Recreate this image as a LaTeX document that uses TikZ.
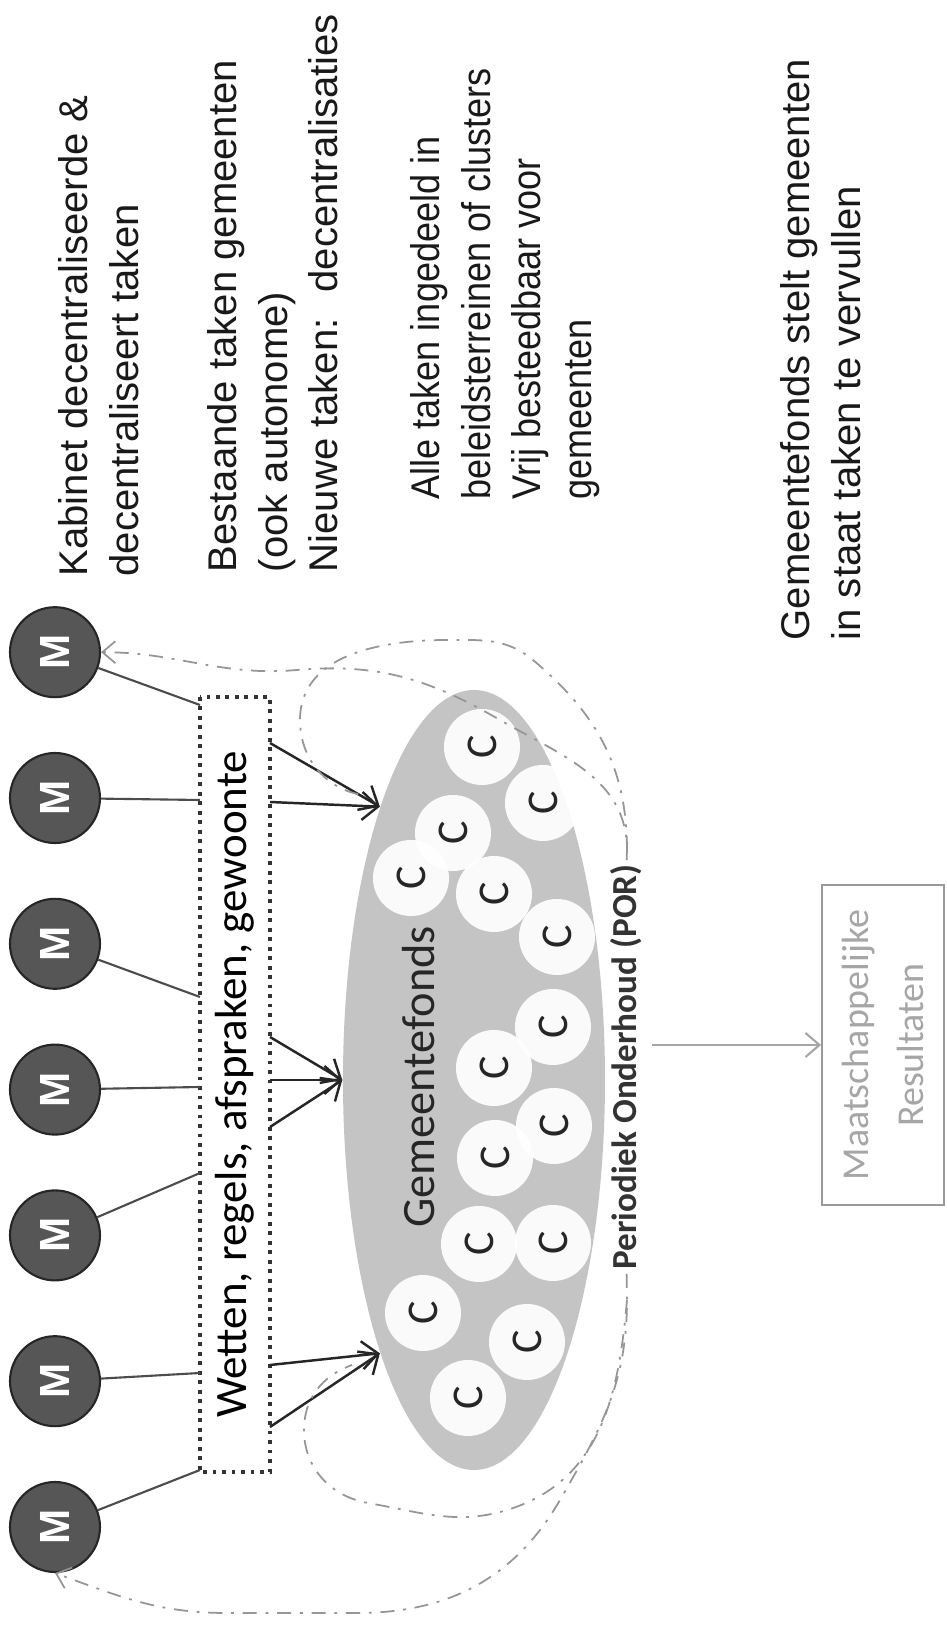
\documentclass[tikz,border=0pt]{standalone}
\usepackage{fontspec}
\setmainfont{Liberation Sans}
\newfontfamily\calibri{Carlito}
\usetikzlibrary{arrows.meta,positioning,shapes.geometric}

\definecolor{mgrey}{RGB}{86,86,86}
\definecolor{fondsgrey}{RGB}{196,196,196}
\definecolor{loopgrey}{RGB}{150,150,150}

\tikzset{
    minister/.style={circle, draw=black!85, line width=0.6pt, fill=mgrey, minimum size=0.9cm, inner sep=0pt, text=white, font=\fontsize{12}{12}\selectfont\bfseries},
    rulebox/.style={draw=black!80, line width=1.1pt, dash pattern=on 1.1pt off 1.6pt, minimum width=7.75cm, minimum height=0.7cm, inner sep=0pt, font=\calibri\fontsize{12.8}{13}\selectfont},
    fonds/.style={ellipse, fill=fondsgrey, minimum width=7.8cm, minimum height=2.62cm, inner sep=0pt},
    cluster/.style={circle, fill=white, fill opacity=0.92, text opacity=1, minimum size=0.76cm, inner sep=0pt, text=black!85, font=\calibri\fontsize{12.5}{12.5}\selectfont},
    link/.style={draw=black!70, line width=0.6pt},
    feed/.style={-{Straight Barb[length=1.6mm,width=2.8mm]}, draw=black!85, line width=0.7pt},
    loopline/.style={draw=loopgrey, line width=0.5pt, dash pattern=on 4pt off 2.5pt on 0.8pt off 2.5pt},
    loopend/.style={-{Straight Barb[length=1.3mm,width=2.2mm]}},
    note/.style={anchor=north west, align=left, inner sep=0pt, text=black!90, font=\fontsize{11.4}{14.4}\selectfont},
    porlabel/.style={anchor=base, inner sep=1pt, text=black!80, font=\calibri\bfseries\fontsize{10}{10}\selectfont},
    resbox/.style={draw=black!40, line width=0.5pt, minimum width=3.2cm, minimum height=1.22cm, align=center, text=black!35, font=\calibri\fontsize{10.8}{15.6}\selectfont},
    resarrow/.style={-{Straight Barb[length=1.4mm,width=2.4mm]}, draw=black!35, line width=0.6pt}
}

\begin{document}
\begin{tikzpicture}[rotate=90, transform shape]
    \fill[white] (0,0) rectangle (16.30,9.47);
    \useasboundingbox (0,0) rectangle (16.30,9.47);

    % ministeries en regels
    \foreach \i in {1,...,7}
        \node[minister] (m\i) at ({1.03+(\i-1)*1.458},8.92) {M};
    \node[rulebox] (wet) at (5.455,7.12) {Wetten, regels, afspraken, gewoonte};
    \foreach \i/\x in {1/1.60,2/2.57,3/4.57,4/5.43,5/6.33,6/8.30,7/9.25} {
        \coordinate (in\i) at (\x,7.47);
        \draw[link] (m\i) -- (in\i);
    }

    % gemeentefonds met clusters
    \node[fonds] (gf) at (5.50,4.73) {};
    \foreach \x/\y [count=\n] in {8.83/4.65,8.27/4.04,7.97/4.94,7.52/5.36,7.36/4.53,6.93/3.90,6.03/3.94,5.62/4.53,5.04/3.93,4.72/4.52,3.86/4.68,3.87/3.94,3.17/5.24,2.88/4.20,2.32/4.79}
        \node[cluster] (c\n) at (\x,\y) {C};
    \node[anchor=base, text=black!85, font=\calibri\fontsize{13.2}{13.2}\selectfont] (gflabel) at (5.53,5.12) {Gemeentefonds};

    % pijlen naar het fonds
    \foreach \x/\t [count=\n] in {8.87/19,8.28/19,5.93/north,5.50/north,5.03/north,2.65/161,2.03/161} {
        \coordinate (out\n) at (\x,6.77);
        \draw[feed] (out\n) -- (gf.\t);
    }

    % periodiek onderhoud
    \node[porlabel] (por) at (5.63,3.10) {Periodiek Onderhoud (POR)};
    \coordinate (porl) at (3.30,3.20);
    \coordinate (porr) at (7.80,3.20);
    \draw[loopline,loopend] (por.east) -- (porr) to[out=0,in=-120] (9.10,4.47) to[out=60,in=-85] (9.60,6.50) to[out=95,in=-90] (m7.south);
    \draw[loopline] (porr) to[out=0,in=-130] (9.70,4.14) to[out=50,in=-90] (9.90,5.00) to[out=90,in=0] (9.10,6.47) to[out=180,in=80] (8.35,5.85);
    \draw[loopline,loopend] (por.west) -- (porl) to[out=180,in=-30] (1.30,3.87) to[out=150,in=-90] (0.17,5.90) -- (0.17,7.20) to[out=90,in=-110] (m1.west);
    \draw[loopline] (porl) to[out=175,in=-70] (1.23,4.31) to[out=110,in=-100] (1.27,5.79) to[out=80,in=180] (2.00,6.43) to[out=0,in=110] (2.65,5.95);

    % resultaten
    \node[resbox] (res) at (5.85,0.64) {Maatschappelijke\\Resultaten};
    \coordinate (porout) at (5.85,2.95);
    \draw[resarrow] (porout) -- (res.north);

    % toelichting
    \node[note] (kabinet) at (10.53,8.89) {Kabinet decentraliseerde \&\\decentraliseert taken};
    \node[note] (taken) at (10.57,7.40) {Bestaande taken gemeenten\\(ook autonome)\\Nieuwe taken:~ decentralisaties};
    \node[note, xscale=0.9] (clusters) at (11.30,5.37) {Alle taken ingedeeld in\\beleidsterreinen of clusters\\Vrij besteedbaar voor\\gemeenten};
    \node[note] (staat) at (9.89,1.67) {Gemeentefonds stelt gemeenten\\in staat taken te vervullen};
\end{tikzpicture}
\end{document}
